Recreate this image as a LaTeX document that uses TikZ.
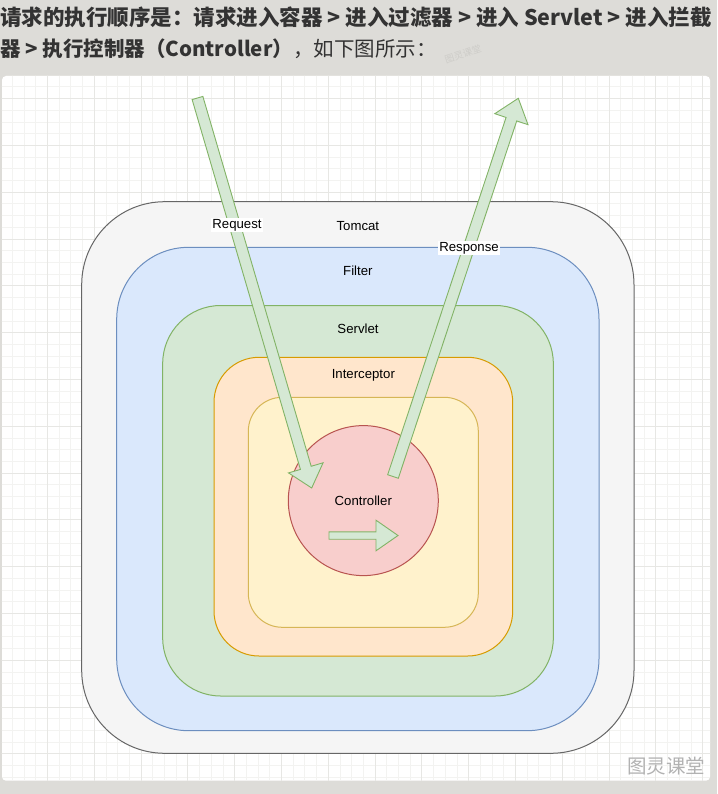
\documentclass[tikz,border=0pt]{standalone}
\usepackage{fontspec}
\setmainfont{Liberation Sans}
\newfontfamily\cjk{Noto Sans CJK SC}
\usetikzlibrary{calc}

\definecolor{pagebg}{RGB}{221,220,216}
\definecolor{headtext}{RGB}{51,51,51}
\definecolor{gridfaint}{RGB}{243,243,241}
\definecolor{gridstrong}{RGB}{231,231,228}
\definecolor{tomcatfill}{HTML}{F5F5F5}
\definecolor{tomcatline}{HTML}{666666}
\definecolor{filterfill}{HTML}{DAE8FC}
\definecolor{filterline}{HTML}{6C8EBF}
\definecolor{servletfill}{HTML}{D5E8D4}
\definecolor{servletline}{HTML}{82B366}
\definecolor{interfill}{HTML}{FFE6CC}
\definecolor{interline}{HTML}{D79B00}
\definecolor{corefill}{HTML}{FFF2CC}
\definecolor{coreline}{HTML}{D6B656}
\definecolor{ctrlfill}{HTML}{F8CECC}
\definecolor{ctrlline}{HTML}{B85450}

% flat arrow: style, tail, tip, half shaft, half head, head length
\newcommand{\flatarrow}[6]{%
  \coordinate (#2-head) at ($(#3)!#6!(#2)$);
  \draw[#1] ($(#2)!#4!90:(#3)$) -- ($(#2-head)!#4!90:(#3)$)
    -- ($(#2-head)!#5!90:(#3)$) -- (#3) -- ($(#2-head)!#5!-90:(#3)$)
    -- ($(#2-head)!#4!-90:(#3)$) -- ($(#2)!#4!-90:(#3)$) -- cycle;}

\tikzset{
  layer/.style={draw, line width=1pt, inner sep=0pt},
  lbl/.style={font=\fontsize{13.2}{15}\selectfont, inner sep=0pt},
  tag/.style={lbl, fill=white, inner sep=1pt},
  headline/.style={font=\cjk\fontsize{20.5}{24}\selectfont, text=headtext, inner sep=0pt, anchor=west},
  flow/.style={fill=servletfill, draw=servletline, line width=0.9pt, line join=miter},
}

\begin{document}
\begin{tikzpicture}[x=1pt, y=-1pt]
  \useasboundingbox (0,0) rectangle (717,794);
  \fill[pagebg] (0,0) rectangle (717,794);

  \node[headline, font=\cjk\fontsize{21.5}{24}\selectfont] (line1) at (0,17) {\bfseries 请求的执行顺序是：请求进入容器 > 进入过滤器 > 进入 Servlet > 进入拦截};
  \node[headline] (line2) at (0,49) {\bfseries 器 > 执行控制器（Controller）\mdseries，如下图所示：};
  \node[font=\cjk\fontsize{9.5}{11}\selectfont, text=pagebg!93!black, rotate=18, inner sep=0pt] (fadedseal) at (463,54) {图灵课堂};

  % board with grid
  \node[fill=white, rounded corners=4pt, minimum width=708pt, minimum height=704.7pt, inner sep=0pt] (board) at (356,428.35) {};
  \begin{scope}
    \clip[rounded corners=4pt] (board.south west) rectangle (board.north east);
    \foreach \k in {0,...,60}
      \draw[gridfaint, line width=0.8pt] ({0.6+11.7*\k},70) -- ({0.6+11.7*\k},790);
    \foreach \k in {2,...,62}
      \draw[gridfaint, line width=0.8pt] (0,{51.8+11.7*\k}) -- (717,{51.8+11.7*\k});
    \foreach \k in {0,4,...,60}
      \draw[gridstrong, line width=0.8pt] ({0.6+11.7*\k},70) -- ({0.6+11.7*\k},790);
    \foreach \k in {4,8,...,60}
      \draw[gridstrong, line width=0.8pt] (0,{51.8+11.7*\k}) -- (717,{51.8+11.7*\k});
  \end{scope}

  % nested layers
  \node[layer, fill=tomcatfill, draw=tomcatline, rounded corners=83pt,
        minimum width=552.3pt, minimum height=551.6pt] (tomcat) at (357.85,477.5) {};
  \node[layer, fill=filterfill, draw=filterline, rounded corners=72pt,
        minimum width=482.3pt, minimum height=483.4pt] (filter) at (357.85,489) {};
  \node[layer, fill=servletfill, draw=servletline, rounded corners=58pt,
        minimum width=390.6pt, minimum height=390.5pt] (servlet) at (358,500.75) {};
  \node[layer, fill=interfill, draw=interline, rounded corners=45pt,
        minimum width=298.7pt, minimum height=298.7pt] (interceptor) at (363.35,506.65) {};
  \node[layer, fill=corefill, draw=coreline, rounded corners=34pt,
        minimum width=230pt, minimum height=230pt] (core) at (363.3,512.3) {};
  \node[layer, circle, fill=ctrlfill, draw=ctrlline, minimum size=150pt] (controller) at (363.3,500.6) {};

  \node[lbl] (tomcatlbl) at ([yshift=-24.5pt]tomcat.north) {Tomcat};
  \node[lbl] (filterlbl) at ([yshift=-24pt]filter.north) {Filter};
  \node[lbl] (servletlbl) at ([yshift=-23.5pt]servlet.north) {Servlet};
  \node[lbl] (interlbl) at ([yshift=-18.5pt]interceptor.north) {Interceptor};
  \node[lbl] (ctrllbl) at (controller.center) {Controller};

  % request / response flow
  \coordinate (reqtail) at (197.5,98);
  \coordinate (reqtip) at (311.7,488);
  \coordinate (restail) at (393,476.5);
  \coordinate (restip) at (518.3,98.3);
  \coordinate (handletail) at (329,535.5);
  \coordinate (handletip) at (398,535.5);
  \flatarrow{flow}{reqtail}{reqtip}{5.6pt}{18pt}{21pt}
  \flatarrow{flow}{restail}{restip}{5.6pt}{17.5pt}{22pt}
  \flatarrow{flow}{handletail}{handletip}{3.7pt}{15.3pt}{22pt}

  \node[tag] (reqlbl) at (237,225) {Request};
  \node[tag] (reslbl) at (469,248) {Response};

  \node[font=\cjk\fontsize{19.5}{22}\selectfont, text=gray!60, inner sep=0pt] (seal) at (666,766) {图灵课堂};
\end{tikzpicture}
\end{document}
